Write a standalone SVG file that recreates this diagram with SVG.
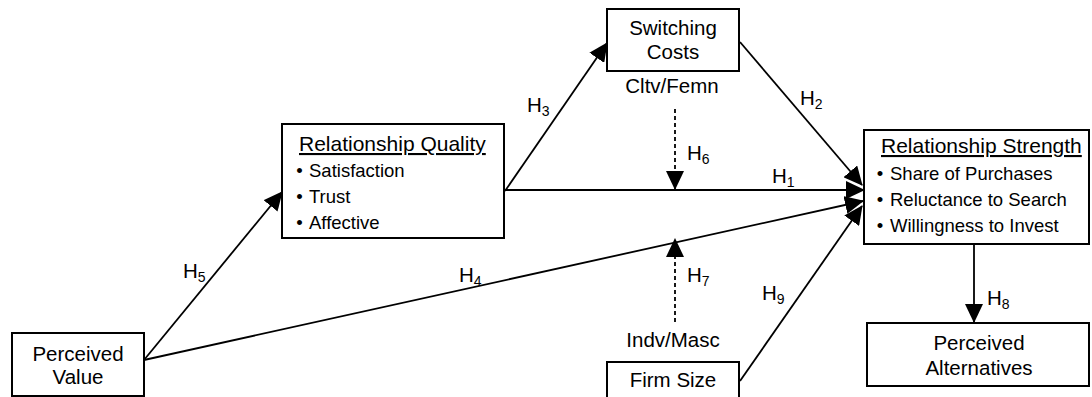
<svg xmlns="http://www.w3.org/2000/svg" width="1092" height="397" viewBox="0 0 1092 397">
<style>
text{font-family:"Liberation Sans",Arial,Helvetica,sans-serif;fill:#000}
.t{font-size:20.5px}
.c{text-anchor:middle}
.title{font-size:21px;text-decoration:underline}
.b{font-size:18.5px}
.box{fill:#fff;stroke:#000;stroke-width:2}
.ln{stroke:#000;stroke-width:1.8;fill:none}
.dash{stroke:#000;stroke-width:1.8;fill:none;stroke-dasharray:4 3}
.sub{font-size:14px}
</style>
<defs>
<marker id="ah" viewBox="0 0 19 18" markerWidth="19" markerHeight="18" refX="18" refY="9" orient="auto" markerUnits="userSpaceOnUse">
<path d="M0,0 L19,9 L0,18 z" fill="#000"/>
</marker>
</defs>
<rect width="1092" height="397" fill="#fff"/>
<g id="connectors">
<line class="ln" x1="144" y1="360" x2="282" y2="192" marker-end="url(#ah)"/>
<line class="ln" x1="144" y1="360" x2="863" y2="201" marker-end="url(#ah)"/>
<line class="ln" x1="505" y1="191" x2="607" y2="43" marker-end="url(#ah)"/>
<line class="ln" x1="505" y1="190" x2="864" y2="190" marker-end="url(#ah)"/>
<line class="ln" x1="740" y1="42" x2="862" y2="185" marker-end="url(#ah)"/>
<line class="ln" x1="740" y1="381" x2="862" y2="206" marker-end="url(#ah)"/>
<line class="ln" x1="974" y1="244" x2="974" y2="322" marker-end="url(#ah)"/>
<line class="dash" x1="675" y1="109" x2="675" y2="189" marker-end="url(#ah)"/>
<line class="dash" x1="675" y1="322" x2="675" y2="239" marker-end="url(#ah)"/>
<text class="t" x="772" y="183">H<tspan class="sub" dy="4">1</tspan></text>
<text class="t" x="800" y="105">H<tspan class="sub" dy="4">2</tspan></text>
<text class="t" x="527" y="112">H<tspan class="sub" dy="4">3</tspan></text>
<text class="t" x="459" y="282">H<tspan class="sub" dy="4">4</tspan></text>
<text class="t" x="183" y="278">H<tspan class="sub" dy="4">5</tspan></text>
<text class="t" x="687" y="160">H<tspan class="sub" dy="4">6</tspan></text>
<text class="t" x="687" y="282">H<tspan class="sub" dy="4">7</tspan></text>
<text class="t" x="987" y="305">H<tspan class="sub" dy="4">8</tspan></text>
<text class="t" x="762" y="300">H<tspan class="sub" dy="4">9</tspan></text>
<text class="t c" x="672" y="93">Cltv/Femn</text>
<text class="t c" x="673" y="347">Indv/Masc</text>
</g>
<g id="perceived-value">
<rect class="box" x="12" y="333" width="132" height="63"/>
<text class="t c" x="78" y="361">Perceived</text>
<text class="t c" x="78" y="384">Value</text>
</g>
<g id="relationship-quality">
<rect class="box" x="282" y="124" width="222" height="114"/>
<text class="title" x="299" y="151">Relationship Quality</text>
<text class="b c" x="299.5" y="177">•</text><text class="b" x="309" y="177">Satisfaction</text>
<text class="b c" x="299.5" y="203">•</text><text class="b" x="309" y="203">Trust</text>
<text class="b c" x="299.5" y="229">•</text><text class="b" x="309" y="229">Affective</text>
</g>
<g id="switching-costs">
<rect class="box" x="607" y="9" width="132" height="62"/>
<text class="t c" x="673" y="35">Switching</text>
<text class="t c" x="673" y="59">Costs</text>
</g>
<g id="relationship-strength">
<rect class="box" x="864" y="130" width="225" height="114"/>
<text class="title" x="881" y="153">Relationship Strength</text>
<text class="b c" x="880" y="180">•</text><text class="b" x="890" y="180">Share of Purchases</text>
<text class="b c" x="880" y="206">•</text><text class="b" x="890" y="206">Reluctance to Search</text>
<text class="b c" x="880" y="232">•</text><text class="b" x="890" y="232">Willingness to Invest</text>
</g>
<g id="perceived-alternatives">
<rect class="box" x="867" y="323" width="222" height="63"/>
<text class="t c" x="979" y="350">Perceived</text>
<text class="t c" x="979" y="375">Alternatives</text>
</g>
<g id="firm-size">
<rect class="box" x="607" y="362" width="132" height="40"/>
<text class="t c" x="673" y="387">Firm Size</text>
</g>
</svg>
